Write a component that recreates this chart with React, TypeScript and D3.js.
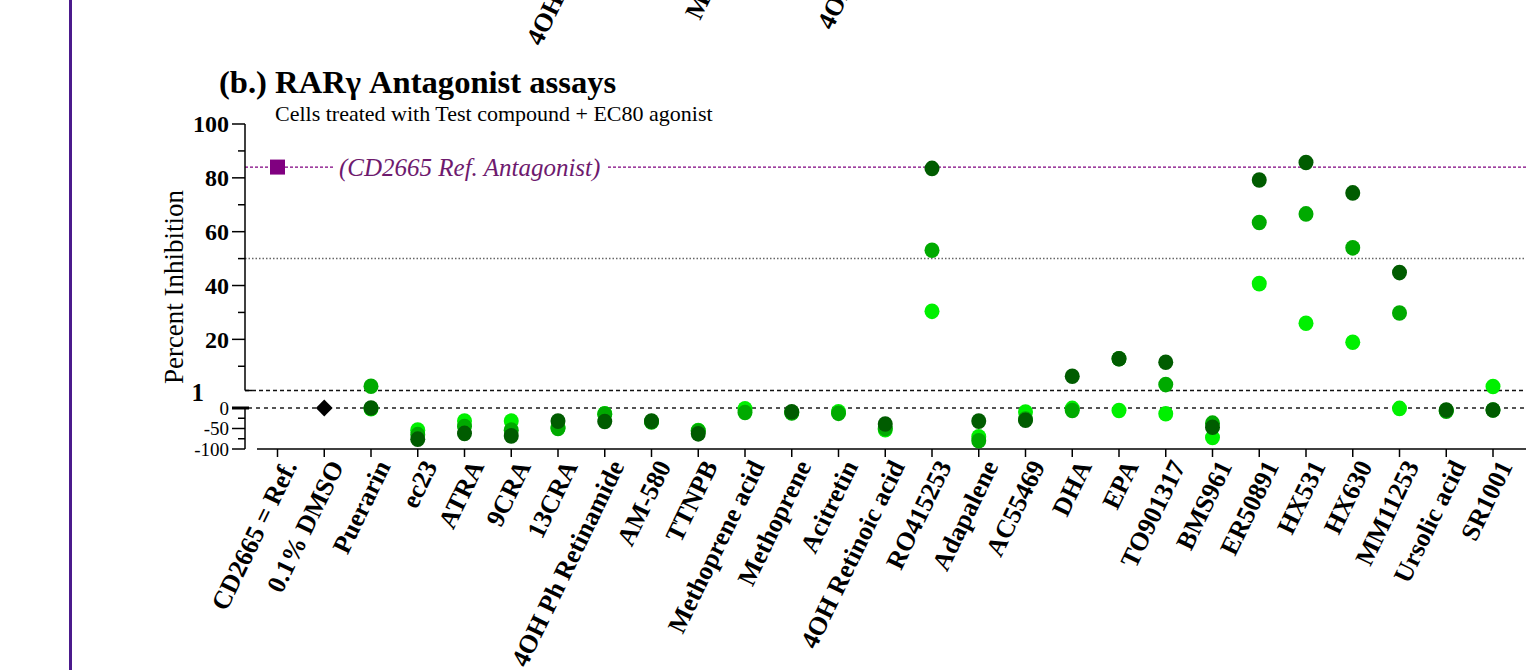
import React from "react";
import * as d3 from "d3";

// Compounds on the x axis
const categories = [
  "CD2665 = Ref.", "0.1% DMSO", "Puerarin", "ec23", "ATRA", "9CRA", "13CRA",
  "4OH Ph Retinamide", "AM-580", "TTNPB", "Methoprene acid", "Methoprene",
  "Acitretin", "4OH Retinoic acid", "RO415253", "Adapalene", "AC55469", "DHA",
  "EPA", "TO901317", "BMS961", "ER50891", "HX531", "HX630", "MM11253",
  "Ursolic acid", "SR1001",
];

// Percent inhibition per compound, three concentrations (null = not plotted)
const lowConc: (number | null)[] = [
  null, null, -2, -54, -32, -32, -48, -14, -33, -55, -2, -11, -9, -53, 30.4,
  -70, -10, -1, -6, -14, -72, 40.7, 26, 18.9, -1, -6, 2.5,
];
const midConc: (number | null)[] = [
  null, null, 2.6, -65, -45, -54, -50, -15, -34, -56, -11, -12, -13, -50, 53.1,
  -80, -27, -6, 12.8, 3.2, -37, 63.4, 66.6, 54, 29.8, -8, -5,
];
const highConc: (number | null)[] = [
  null, null, 0, -76, -62, -68, -32, -33, -32, -63, null, -9, null, -39, 83.5,
  -32, -30, 6.3, 12.8, 11.5, -47, 79.2, 85.7, 74.4, 44.8, -5, -5,
];

// Reference antagonist and vehicle control
const refAntagonist = 84;
const vehicle = 0;

// Axis ticks of the two y-axis segments
const upperMajor = [100, 80, 60, 40, 20];
const upperMinor = [90, 70, 50, 30, 10];
const lowerMajor = [0, -50, -100];
const lowerMinor = [-25, -75];

// Tail of the panel above
const abovePanelLabels = [
  { text: "4OH Ph Retinamide", x: 541, y: 47 },
  { text: "Methoprene acid", x: 700, y: 21 },
  { text: "4OH Retinoic acid", x: 832, y: 31 },
];

const W = 1526;
const H = 670;
const serif = "'Liberation Serif', 'Times New Roman', serif";

const COL_HIGH = "#005c00";
const COL_MID = "#00aa00";
const COL_LOW = "#00f000";
const PURPLE = "#800080";

export default function App() {
  const axisX = 245;
  // Segmented y scale: -100..0 below the break, 1..100 above it
  const y = d3
    .scaleLinear()
    .domain([-100, 0, 1, 100])
    .range([449, 408, 390.5, 124]);
  const x = d3.scalePoint<string>().domain(categories).range([277.5, 1493]);

  const rot = -64;
  const series = [
    { vals: lowConc, color: COL_LOW },
    { vals: midConc, color: COL_MID },
    { vals: highConc, color: COL_HIGH },
  ];

  const refY = y(refAntagonist);
  const refX = x(categories[0])!;
  const dmsoX = x(categories[1])!;

  return (
    <svg
      width={W}
      height={H}
      style={{ position: "absolute", left: 0, top: 0, background: "#fff" }}
      fontFamily={serif}
    >
      <rect width={W} height={H} fill="#fff" />
      {/* frame line at the left */}
      <line x1={70.5} x2={70.5} y1={0} y2={H} stroke="#4b1a8c" strokeWidth={3} />

      {/* labels of the panel above, cut by the top edge */}
      {abovePanelLabels.map((d) => (
        <text
          key={d.text}
          x={d.x}
          y={d.y}
          transform={`rotate(${rot},${d.x},${d.y})`}
          fontSize={26}
          fontWeight="bold"
          textAnchor="start"
        >
          {d.text}
        </text>
      ))}

      {/* titles */}
      <text x={219} y={93} fontSize={32.6} fontWeight="bold">
        (b.) RARγ Antagonist assays
      </text>
      <text x={275} y={121} fontSize={22}>
        Cells treated with Test compound + EC80 agonist
      </text>

      {/* y axis title */}
      <text
        transform={`translate(183,287) rotate(-90)`}
        textAnchor="middle"
        fontSize={27}
      >
        Percent Inhibition
      </text>

      {/* reference lines */}
      <line x1={axisX} x2={W} y1={y(50)} y2={y(50)} stroke="#666" strokeWidth={1.5} strokeDasharray="1.5 2" />
      <line x1={axisX} x2={W} y1={y(1)} y2={y(1)} stroke="#111" strokeWidth={1.3} strokeDasharray="4 3" />
      <line x1={248} x2={W} y1={y(0)} y2={y(0)} stroke="#555" strokeWidth={2} strokeDasharray="4 4" />
      <line x1={axisX} x2={333} y1={refY} y2={refY} stroke={PURPLE} strokeWidth={1.3} strokeDasharray="3 2" />
      <line x1={608} x2={W} y1={refY} y2={refY} stroke={PURPLE} strokeWidth={1.3} strokeDasharray="3 2" />
      <text x={339} y={refY} dy="0.35em" fontSize={25} fontStyle="italic" fill="#6e1a6e">
        (CD2665 Ref. Antagonist)
      </text>

      {/* upper y axis segment */}
      <line x1={axisX} x2={axisX} y1={y(100)} y2={y(1)} stroke="#000" strokeWidth={1.5} />
      <line x1={axisX} x2={252} y1={y(1)} y2={y(1)} stroke="#000" strokeWidth={1.5} />
      {upperMajor.map((t) => (
        <g key={t}>
          <line x1={232} x2={axisX} y1={y(t)} y2={y(t)} stroke="#000" strokeWidth={1.5} />
          <text x={229} y={y(t)} dy="0.35em" textAnchor="end" fontSize={24} fontWeight="bold">
            {t}
          </text>
        </g>
      ))}
      {upperMinor.map((t) => (
        <line key={t} x1={238} x2={axisX} y1={y(t)} y2={y(t)} stroke="#000" strokeWidth={1.5} />
      ))}
      <text x={204} y={y(1)} dy="0.4em" textAnchor="end" fontSize={25} fontWeight="bold">
        1
      </text>

      {/* lower y axis segment */}
      <line x1={axisX} x2={axisX} y1={y(0)} y2={y(-100)} stroke="#000" strokeWidth={1.5} />
      <line x1={232} x2={249} y1={y(0)} y2={y(0)} stroke="#000" strokeWidth={3} />
      {lowerMajor.filter((t) => t !== 0).map((t) => (
        <line key={t} x1={232} x2={axisX} y1={y(t)} y2={y(t)} stroke="#000" strokeWidth={1.5} />
      ))}
      {lowerMinor.map((t) => (
        <line key={t} x1={238} x2={axisX} y1={y(t)} y2={y(t)} stroke="#000" strokeWidth={1.5} />
      ))}
      {lowerMajor.map((t) => (
        <text key={t} x={229} y={y(t)} dy="0.35em" textAnchor="end" fontSize={19}>
          {t}
        </text>
      ))}

      {/* x axis */}
      <line x1={257} x2={W} y1={449} y2={449} stroke="#000" strokeWidth={1.5} />
      {categories.map((c) => {
        const cx = x(c)!;
        const lx = cx + 12;
        const ly = 462;
        return (
          <g key={c}>
            <line x1={cx} x2={cx} y1={449} y2={457} stroke="#000" strokeWidth={1.5} />
            <text
              x={lx}
              y={ly}
              dy="0.35em"
              transform={`rotate(${rot},${lx},${ly})`}
              textAnchor="end"
              fontSize={26}
              fontWeight="bold"
            >
              {c}
            </text>
          </g>
        );
      })}

      {/* data points */}
      {series.map((s, si) => (
        <g key={si}>
          {s.vals.map((v, i) =>
            v === null ? null : (
              <ellipse
                key={i}
                cx={x(categories[i])!}
                cy={y(v)}
                rx={7.5}
                ry={7.8}
                fill={s.color}
              />
            )
          )}
        </g>
      ))}

      {/* reference antagonist and vehicle */}
      <rect x={refX - 7.5} y={refY - 7.5} width={15} height={15} fill={PURPLE} />
      <path
        d={d3.symbol(d3.symbolDiamond2, 180)() as string}
        transform={`translate(${dmsoX},${y(vehicle)})`}
        fill="#000"
      />
    </svg>
  );
}
